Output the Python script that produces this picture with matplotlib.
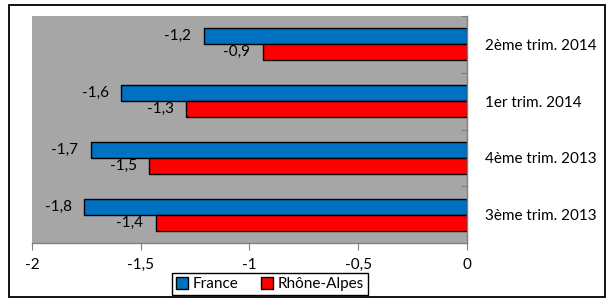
import numpy as np
import matplotlib
matplotlib.use('Agg')
import matplotlib.pyplot as plt
from matplotlib.patches import Rectangle

plt.rcParams['font.family'] = ['Lato', 'DejaVu Sans']

# bottom to top
periods = ['3ème trim. 2013', '4ème trim. 2013', '1er trim. 2014', '2ème trim. 2014']
france = [-1.76, -1.73, -1.59, -1.21]
rhone_alpes = [-1.43, -1.46, -1.29, -0.94]
xticks = [-2, -1.5, -1, -0.5, 0]
xtick_labels = ['-2', '-1,5', '-1', '-0,5', '0']

W, H = 607, 298
fs = 11
fig = plt.figure(figsize=(W / 100, H / 100), dpi=100)
fig.patches.append(Rectangle((9 / W, 1 / H), 596 / W, 292 / H, transform=fig.transFigure,
                             fill=False, edgecolor='black', linewidth=1.3))

ax = fig.add_axes([32 / W, 1 - 243 / H, 435 / W, 227 / H])
ax.set_facecolor('#A6A6A6')

y = np.arange(len(periods))
h = 0.282
b1 = ax.barh(y + h / 2, france, height=h, color='#0070C0', edgecolor='black', linewidth=1, label='France')
b2 = ax.barh(y - h / 2, rhone_alpes, height=h, color='#FF0000', edgecolor='black', linewidth=1, label='Rhône-Alpes')

def fmt(v):
    return '{:.1f}'.format(v).replace('.', ',')

for bars, vals in ((b1, france), (b2, rhone_alpes)):
    for bar, v in zip(bars, vals):
        ax.annotate(fmt(v), (v, bar.get_y() + bar.get_height() / 2), xytext=(-9, 0),
                    textcoords='offset points', ha='right', va='center', fontsize=fs)

ax.set_xlim(-2, 0)
ax.set_ylim(-0.5, len(periods) - 0.5)
ax.set_xticks(xticks)
ax.set_xticklabels(xtick_labels, fontsize=fs)
ax.tick_params(axis='x', direction='out', length=5, width=0.8, color='#808080', pad=6)

ax.yaxis.tick_right()
ax.set_yticks(y)
ax.set_yticklabels(periods, fontsize=fs)
ax.tick_params(axis='y', which='major', length=0, pad=13)
ax.set_yticks(np.arange(-0.5, len(periods), 1), minor=True)
ax.tick_params(axis='y', which='minor', direction='in', length=4, width=0.8, color='#808080')

for s in ('left', 'top'):
    ax.spines[s].set_visible(False)
for s in ('right', 'bottom'):
    ax.spines[s].set_color('#808080')
    ax.spines[s].set_linewidth(1)

leg = fig.legend(handles=[b1, b2], loc='center', bbox_to_anchor=(270 / W, 1 - 284 / H), ncol=2,
                 fontsize=fs, frameon=True, fancybox=False, edgecolor='black', framealpha=1,
                 handlelength=0.8, handleheight=0.8, handletextpad=0.3, columnspacing=1.5,
                 borderpad=0.25, borderaxespad=0)
leg.get_frame().set_linewidth(1)
leg._legend_box.sep = 0
for t in leg.get_texts():
    t.set_x(0)

fig.savefig('out.png', dpi=100)
